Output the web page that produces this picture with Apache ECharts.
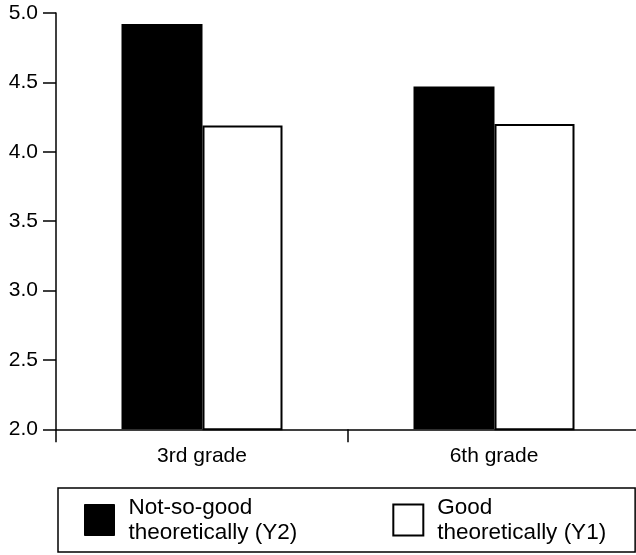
<!DOCTYPE html>
<html>
<head>
<meta charset="utf-8">
<script src="https://cdn.jsdelivr.net/npm/echarts@6/dist/echarts.min.js"></script>
<style>html,body{margin:0;padding:0;background:#fff}#c{width:636px;height:555px}</style>
</head>
<body>
<div id="c"></div>
<script>
var categories = ['3rd grade', '6th grade'];
var seriesNames = ['Not-so-good\ntheoretically (Y2)', 'Good\ntheoretically (Y1)'];
var notSoGood = [4.92, 4.47];
var good = [4.19, 4.20];
var yMin = 2.0, yMax = 5.0, yStep = 0.5;

var FONT = '"Liberation Sans", Arial, Helvetica, sans-serif';
var chart = echarts.init(document.getElementById('c'), null, {renderer: 'canvas'});
chart.setOption({
  animation: false,
  backgroundColor: '#fff',
  grid: {left: 56, right: -4, top: 13, bottom: 125.7, containLabel: false, outerBoundsMode: 'none'},
  xAxis: {
    type: 'category',
    data: categories,
    axisLine: {lineStyle: {color: '#000', width: 1.5}},
    axisTick: {show: true, length: 13, lineStyle: {color: '#000', width: 1.5}},
    axisLabel: {color: '#000', fontSize: 21, fontFamily: FONT, margin: 16}
  },
  yAxis: {
    type: 'value',
    min: yMin, max: yMax, interval: yStep,
    splitLine: {show: false},
    axisLine: {show: true, lineStyle: {color: '#000', width: 1.5}},
    axisTick: {show: true, length: 13, lineStyle: {color: '#000', width: 1.5}},
    axisLabel: {color: '#000', fontSize: 21, fontFamily: FONT, margin: 18,
      formatter: function (v) { return v.toFixed(1); }}
  },
  legend: {
    left: 58, top: 488,
    orient: 'horizontal',
    padding: [7, 29, 7, 26],
    itemGap: 95,
    itemWidth: 30, itemHeight: 31,
    borderColor: '#000', borderWidth: 1.5, borderRadius: 0,
    icon: 'rect',
    textStyle: {color: '#000', fontSize: 22.5, fontFamily: FONT, lineHeight: 25, padding: [0, 0, 0, 9]},
    data: [
      {name: seriesNames[0], itemStyle: {color: '#000', borderColor: '#000', borderWidth: 1}},
      {name: seriesNames[1], itemStyle: {color: '#fff', borderColor: '#000', borderWidth: 2}}
    ]
  },
  series: [
    {name: seriesNames[0], type: 'bar', data: notSoGood, barWidth: 81, barGap: '0%',
      itemStyle: {color: '#000', borderColor: '#000', borderWidth: 0}},
    {name: seriesNames[1], type: 'bar', data: good, barWidth: 80, barGap: '0%',
      itemStyle: {color: '#fff', borderColor: '#000', borderWidth: 2}}
  ]
});
</script>
</body>
</html>
